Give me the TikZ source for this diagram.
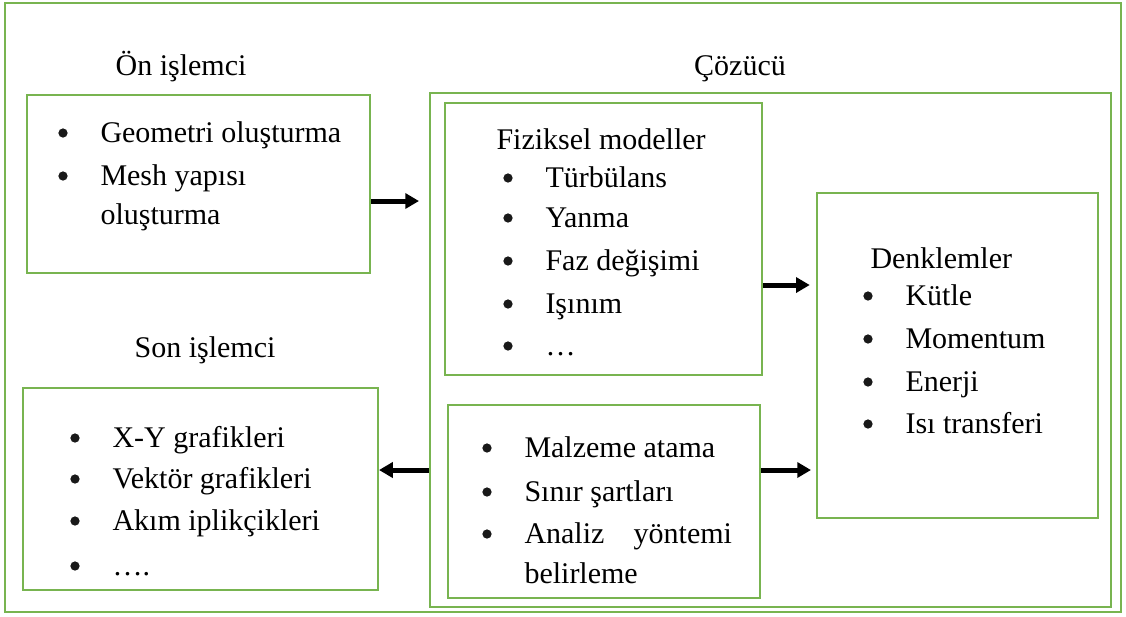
\documentclass[tikz,border=0pt]{standalone}
\usepackage{fontspec}
\setmainfont{Liberation Serif}
\usetikzlibrary{fit,arrows.meta}
\definecolor{kutuyesil}{HTML}{78B450}

\tikzset{
  kutu/.style={draw=kutuyesil, line width=0.8pt, inner sep=0pt},
  yazi/.style={anchor=base west, inner sep=0pt, font=\fontsize{12}{14}\selectfont},
  baslik/.style={anchor=base, inner sep=0pt, font=\fontsize{12}{14}\selectfont},
  nokta/.style={circle, fill=black!90, inner sep=0pt, minimum size=3.7pt},
  ok/.style={-{Triangle[length=5.5pt,width=6pt]}, line width=2pt, black},
}

% madde: isim, x, y, metin
\newcommand{\madde}[4]{%
  \node[nokta] (#1n) at (#2,#3-9) {};
  \node[yazi] (#1) at (#2+37,#3) {#4};
}

\begin{document}
\begin{tikzpicture}[x=0.4pt,y=-0.4pt]
  \useasboundingbox (0,0) rectangle (1126,616);
  % dis cerceve
  \draw[kutuyesil, line width=0.8pt] (5,3) rectangle (1121,612);

  % kutular
  \node[kutu, fit={(27,95) (370,273)}] (onbox) {};
  \node[kutu, fit={(430,93) (1111,607)}] (cozbox) {};
  \node[kutu, fit={(445,103) (762,375)}] (fizbox) {};
  \node[kutu, fit={(817,193) (1098,518)}] (denkbox) {};
  \node[kutu, fit={(448,405) (760,598)}] (malbox) {};
  \node[kutu, fit={(23,388) (378,590)}] (sonbox) {};

  % basliklar
  \node[baslik] (onlabel) at (181,75) {Ön işlemci};
  \node[baslik] (cozlabel) at (740,75) {Çözücü};
  \node[baslik] (sonlabel) at (205,357) {Son işlemci};

  % on islemci
  \madde{geo}{63}{142}{Geometri oluşturma}
  \madde{mesh}{63}{185}{Mesh yapısı}
  \node[yazi] (mesh2) at (100,224) {oluşturma};

  % fiziksel modeller
  \node[yazi] (fiz) at (496,149) {Fiziksel modeller};
  \madde{turb}{508}{187}{Türbülans}
  \madde{yanma}{508}{227}{Yanma}
  \madde{faz}{508}{270}{Faz değişimi}
  \madde{isin}{508}{313}{Işınım}
  \madde{fizdot}{508}{355}{…}

  % denklemler
  \node[yazi] (denk) at (870,268) {Denklemler};
  \madde{kut}{868}{305}{Kütle}
  \madde{mom}{868}{348}{Momentum}
  \madde{ener}{868}{391}{Enerji}
  \madde{isi}{868}{433}{Isı transferi}

  % malzeme
  \madde{malz}{487}{457}{Malzeme atama}
  \madde{sinir}{487}{501}{Sınır şartları}
  \madde{anal}{487}{543}{\hbox to 83pt{Analiz\hfil yöntemi}}
  \node[yazi] (belir) at (524,583) {belirleme};

  % son islemci
  \madde{xy}{75}{447}{X-Y grafikleri}
  \madde{vek}{75}{488}{Vektör grafikleri}
  \madde{akim}{75}{530}{Akım iplikçikleri}
  \madde{sondot}{75}{575}{….}

  % oklar
  \draw[ok] (onbox.east |- 0,201) -- ([xshift=-4pt]cozbox.west |- 0,201);
  \draw[ok] (fizbox.east |- 0,285) -- ([xshift=-2.5pt]denkbox.west |- 0,285);
  \draw[ok] (malbox.east |- 0,470) -- ([xshift=-2pt]denkbox.west |- 0,470);
  \draw[ok] (cozbox.west |- 0,470) -- (sonbox.east |- 0,470);
\end{tikzpicture}
\end{document}
